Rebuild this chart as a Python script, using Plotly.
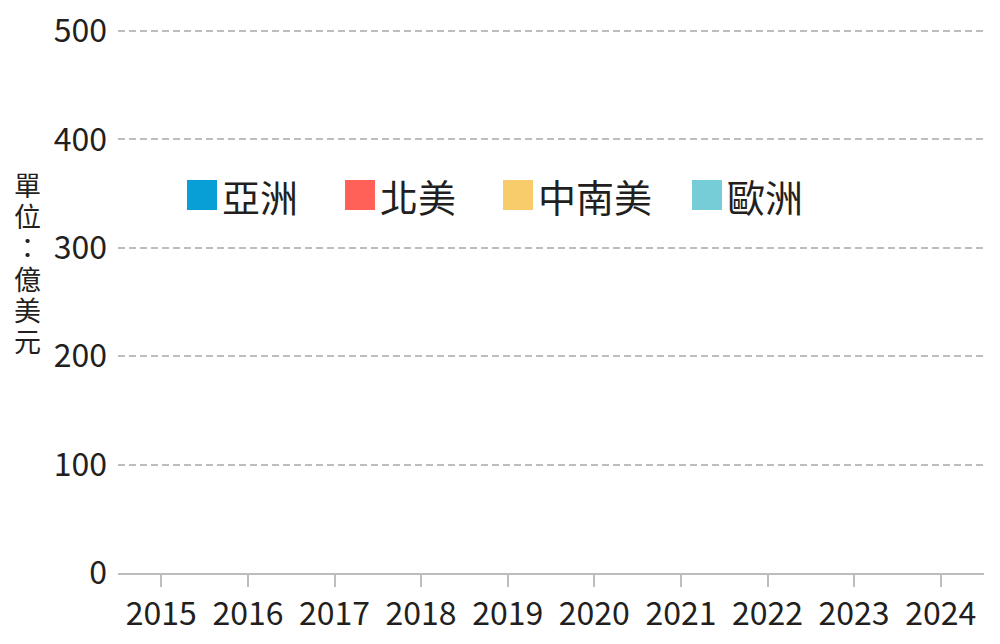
import plotly.graph_objects as go

# 年度與地區
years = ["2015", "2016", "2017", "2018", "2019", "2020", "2021", "2022", "2023", "2024"]
regions = ["亞洲", "北美", "中南美", "歐洲"]
colors = ["#089ED6", "#FF6159", "#F9CC6B", "#76CDD8"]

# 各地區數值（圖上沒有任何柱子）
asia = [0, 0, 0, 0, 0, 0, 0, 0, 0, 0]
north_america = [0, 0, 0, 0, 0, 0, 0, 0, 0, 0]
latin_america = [0, 0, 0, 0, 0, 0, 0, 0, 0, 0]
europe = [0, 0, 0, 0, 0, 0, 0, 0, 0, 0]
series = [asia, north_america, latin_america, europe]

y_ticks = [0, 100, 200, 300, 400, 500]
unit_label = "單位：億美元"

FONT = "Noto Sans CJK TC"
TXT = "#231f20"
GRID = "#bdbdbd"

W, H = 1000, 644
L, R, T, B = 118, 16, 30, 71

fig = go.Figure()
for name, vals, c in zip(regions, series, colors):
    fig.add_trace(go.Bar(x=years, y=vals, name=name,
                         marker=dict(color=c, line=dict(width=0)),
                         showlegend=False))


# 像素 -> paper 座標
def px_x(p):
    return (p - L) / (W - L - R)


def px_y(p):
    return (H - B - p) / (H - T - B)


# 自製圖例：大方塊 + 文字
shapes = []
annotations = []
x0 = 187
fs_leg = 38
for name, c in zip(regions, colors):
    shapes.append(dict(type="rect", xref="paper", yref="paper",
                       x0=px_x(x0), x1=px_x(x0 + 30),
                       y0=px_y(210), y1=px_y(180),
                       fillcolor=c, line=dict(width=0)))
    annotations.append(dict(text=name, xref="paper", yref="paper",
                            x=px_x(x0 + 33), y=px_y(195),
                            xanchor="left", yanchor="middle", showarrow=False,
                            font=dict(size=fs_leg, color=TXT, family=FONT)))
    x0 += 96 + len(name) * 31

# 直排單位（行距用 24px 字算，字本身放大）
unit_txt = "<br>".join('<span style="font-size:27px">%s</span>' % ch for ch in unit_label)
annotations.append(dict(text=unit_txt, xref="paper", yref="paper",
                        x=px_x(27), y=px_y(262), xanchor="center", yanchor="middle",
                        showarrow=False, align="center",
                        font=dict(size=24, color=TXT, family=FONT)))

fig.update_layout(
    width=W, height=H,
    margin=dict(l=L, r=R, t=T, b=B, autoexpand=False),
    barmode="stack",
    plot_bgcolor="white", paper_bgcolor="white",
    font=dict(family=FONT, color=TXT),
    shapes=shapes, annotations=annotations,
    xaxis=dict(showgrid=False, showline=True, linecolor=GRID, linewidth=2,
               ticks="outside", ticklen=12, tickwidth=2, tickcolor=GRID,
               tickfont=dict(size=32, family=FONT, color=TXT),
               range=[-0.5, 9.5], automargin=False),
    yaxis=dict(range=[0, 501], tickvals=y_ticks, showgrid=True,
               gridcolor=GRID, griddash="7px,4px", gridwidth=2,
               zeroline=False, showline=False, ticks="", ticklabelstandoff=10,
               ticklabeloverflow="allow", automargin=False,
               tickfont=dict(size=32, family=FONT, color=TXT)),
)

# 去掉 body 預設 8px 邊距，也不要工具列
fig.write_html("out.html", config={"displayModeBar": False},
               post_script="document.body.style.margin='0';")
